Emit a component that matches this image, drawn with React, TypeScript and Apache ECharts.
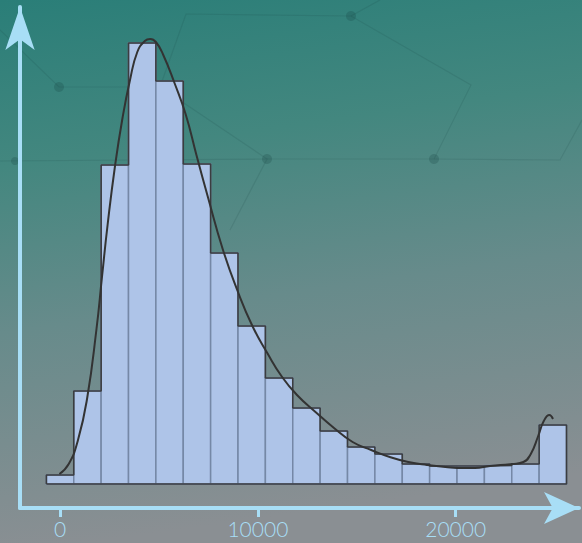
import React, { useEffect, useRef } from "react";
import * as echarts from "echarts";

// Histogram bin edges (data units) and counts
const binEdges = [-693, 691, 2075, 3459, 4843, 6227, 7611, 8995, 10379, 11763, 13147, 14531, 15915, 17299, 18683, 20067, 21451, 22835, 24219, 25603];
const binCounts = [9, 93, 319, 441, 403, 320, 231, 158, 106, 76, 53, 37, 30, 20, 18, 18, 18.5, 20, 59];

// Density curve (scaled to counts)
const curveX = [-35, 435, 905, 1370, 1840, 2118, 2401, 2776, 3155, 3534, 3903, 4282, 4560, 4843, 5217, 5784, 6345, 6906, 7472, 8220, 8974, 9722, 10475, 11224, 11977, 12912, 13847, 14788, 15728, 16669, 17604, 18544, 19479, 20420, 20981, 21734, 22856, 23423, 23797, 24171, 24454, 24737, 24919];
const curveY = [10, 20, 44, 86, 155, 207, 259, 318, 366, 404, 432, 443, 445, 442, 429, 401, 370, 328, 287, 235, 193, 158, 131, 107, 89, 72, 56, 42, 34, 27, 22, 19, 17, 16, 16, 18, 20, 22, 30, 48, 63, 69, 65];

// Axis ticks
const xTicks = [0, 10000, 20000];

const AXIS_COLOR = "#a8def6";

export default function App() {
  const ref = useRef<HTMLDivElement>(null);

  useEffect(() => {
    if (!ref.current) return;
    const chart = echarts.init(ref.current, null, { renderer: "svg" });

    const bars = binCounts.map((c, i) => [binEdges[i], binEdges[i + 1], c]);
    const outline: number[][] = [[binEdges[0], 0]];
    binCounts.forEach((c, i) => {
      outline.push([binEdges[i], c]);
      outline.push([binEdges[i + 1], c]);
    });
    outline.push([binEdges[binEdges.length - 1], 0]);
    outline.push([binEdges[0], 0]);
    const curve = curveX.map((x, i) => [x, curveY[i]]);

    const faint = { stroke: "rgba(20,60,60,0.13)", lineWidth: 1.2 };
    const dot = { fill: "rgba(20,60,60,0.22)" };

    const option: any = {
      animation: false,
      backgroundColor: {
        type: "linear",
        x: 0, y: 0, x2: 0.15, y2: 1,
        colorStops: [
          { offset: 0, color: "#2a7e78" },
          { offset: 0.3, color: "#43877f" },
          { offset: 0.6, color: "#678b8b" },
          { offset: 1, color: "#8a8f93" },
        ],
      },
      graphic: [
        { type: "polyline", shape: { points: [[0, 30], [59, 87], [160, 87], [186, 14], [351, 16], [471, 85], [434, 159], [267, 159], [160, 87]] }, style: { ...faint, fill: null }, silent: true },
        { type: "polyline", shape: { points: [[0, 161], [267, 159], [230, 230]] }, style: { ...faint, fill: null }, silent: true },
        { type: "polyline", shape: { points: [[434, 159], [560, 160], [582, 120]] }, style: { ...faint, fill: null }, silent: true },
        { type: "polyline", shape: { points: [[351, 16], [380, 0]] }, style: { ...faint, fill: null }, silent: true },
        { type: "circle", shape: { cx: 59, cy: 87, r: 5 }, style: dot, silent: true },
        { type: "circle", shape: { cx: 267, cy: 159, r: 5 }, style: dot, silent: true },
        { type: "circle", shape: { cx: 434, cy: 159, r: 5 }, style: dot, silent: true },
        { type: "circle", shape: { cx: 351, cy: 16, r: 5 }, style: dot, silent: true },
        { type: "circle", shape: { cx: 15, cy: 161, r: 4 }, style: dot, silent: true },
      ],
      grid: { left: 20, top: 7, width: 559, bottom: 35, containLabel: false },
      xAxis: {
        type: "value",
        min: -2027,
        max: 26234,
        splitLine: { show: false },
        axisLine: {
          onZero: false,
          lineStyle: { color: AXIS_COLOR, width: 4 },
          symbol: ["none", "arrow"],
          symbolSize: [24, 35],
        },
        axisTick: { show: true, customValues: xTicks, length: 9, lineStyle: { color: AXIS_COLOR, width: 3 } },
        axisLabel: {
          customValues: xTicks,
          formatter: (v: number) => String(v),
          color: AXIS_COLOR,
          fontFamily: "Lato",
          fontWeight: 300,
          fontSize: 21,
          lineHeight: 21,
          margin: 10,
        },
      },
      yAxis: {
        type: "value",
        min: -24,
        max: 477,
        splitLine: { show: false },
        axisTick: { show: false },
        axisLabel: { show: false },
        axisLine: {
          show: true,
          onZero: false,
          lineStyle: { color: AXIS_COLOR, width: 4 },
          symbol: ["none", "arrow"],
          symbolSize: [22, 43],
        },
      },
      series: [
        {
          type: "custom",
          data: bars,
          clip: false,
          renderItem: (params: any, api: any) => {
            const p0 = api.coord([api.value(0), api.value(2)]);
            const p1 = api.coord([api.value(1), 0]);
            return {
              type: "rect",
              shape: { x: p0[0], y: p0[1], width: p1[0] - p0[0], height: p1[1] - p0[1] },
              style: { fill: "#aec4e8", stroke: "#7588a6", lineWidth: 1.5 },
            };
          },
          z: 2,
        },
        {
          type: "line",
          data: outline,
          showSymbol: false,
          symbol: "none",
          lineStyle: { color: "#3b3d40", width: 1.6 },
          z: 3,
        },
        {
          type: "line",
          data: curve,
          smooth: true,
          showSymbol: false,
          symbol: "none",
          lineStyle: { color: "#333333", width: 2 },
          z: 4,
        },
      ],
    };
    chart.setOption(option);
    return () => chart.dispose();
  }, []);

  return (
    <div
      ref={ref}
      style={{ position: "fixed", left: 0, top: 0, width: 582, height: 543 }}
    />
  );
}
